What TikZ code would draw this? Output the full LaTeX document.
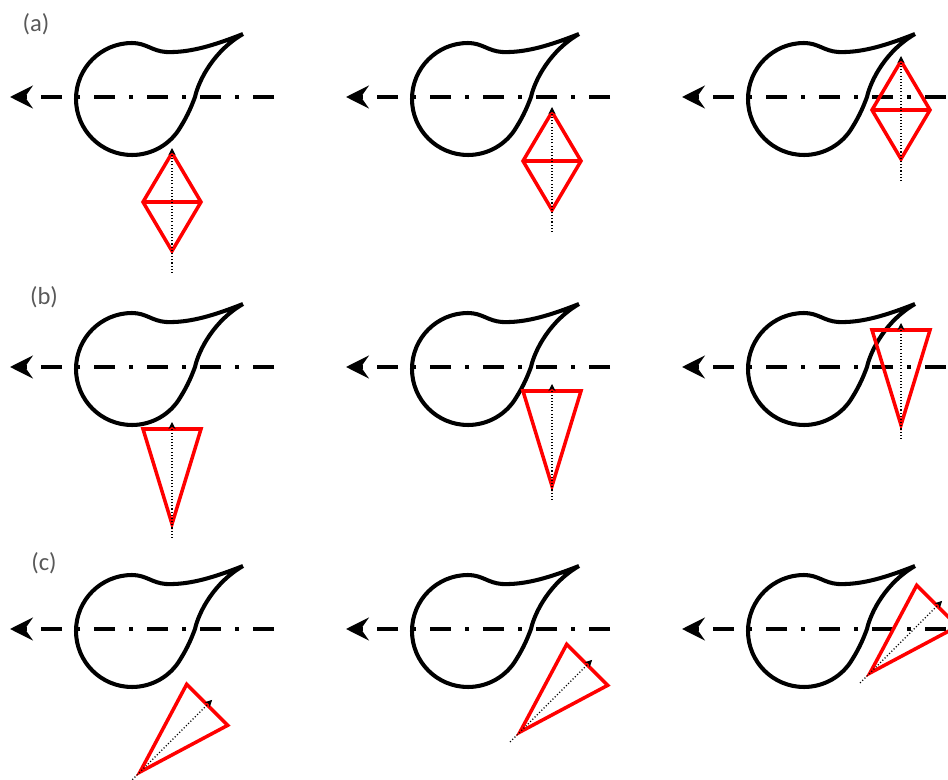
\documentclass[tikz,border=0pt]{standalone}
\usepackage{fontspec}
\setmainfont{Carlito}
\usetikzlibrary{arrows.meta}

\begin{document}
\begin{tikzpicture}[x=0.02cm,y=0.02cm,line join=round,
  dropline/.style={line width=2.3pt},
  axisline/.style={line width=2.3pt,
    dash pattern=on 0.42cm off 0.28cm on 0.08cm off 0.28cm,
    -{Stealth[length=13pt,width=13pt,inset=4.5pt]}},
  markline/.style={red,line width=2pt,line join=miter},
  dotline/.style={line width=0.8pt,dash pattern=on 0.6pt off 1.2pt,
    -{Stealth[length=4pt,width=4pt]}},
  tag/.style={font=\fontsize{14}{16}\selectfont,text=black!65}]

  \useasboundingbox (0,0) rectangle (948,-780);

  % row labels
  \node[tag] (lab-a) at (36,-24) {(a)};
  \node[tag] (lab-b) at (44,-297) {(b)};
  \node[tag] (lab-c) at (44,-563) {(c)};

  % drop shape with its dash-dot axis, three rows and three columns
  \foreach \row/\ay in {a/-97,b/-367,c/-629}{
    \foreach \col in {0,1,2}{
      \begin{scope}[shift={(336*\col,\ay)}]
        \coordinate (\row\col-ax) at (274,0);
        \coordinate (\row\col-tip) at (10,0);
        \draw[axisline] (\row\col-ax) -- (\row\col-tip);
        \draw[dropline] (243,63) .. controls (215,52) and (190,44) .. (166,45)
          .. controls (152,46) and (146,54) .. (132,54)
          arc[start angle=90,end angle=330,radius=56]
          .. controls (188,-18) and (192,-8) .. (195,0)
          .. controls (199,18) and (215,47) .. (243,63);
      \end{scope}
    }
  }

  % (a) diamonds
  \foreach \col/\cx/\cy in {0/172/-105,1/216/-64,2/229/-13}{
    \begin{scope}[shift={(336*\col,-97)}]
      \coordinate (a\col-lo) at (\cx,\cy-71);
      \coordinate (a\col-hi) at (\cx,\cy+54);
      \draw[markline] (\cx,\cy+49) -- (\cx+29,\cy) -- (\cx,\cy-49)
        -- (\cx-29,\cy) -- cycle (\cx-29,\cy) -- (\cx+29,\cy);
      \draw[dotline] (a\col-lo) -- (a\col-hi);
    \end{scope}
  }

  % (b) and (c) triangles, apex and heading
  \foreach \row/\ay/\col/\px/\py/\turn in
    {b/-367/0/172/-157/0,b/-367/1/216/-119/0,b/-367/2/229/-58/0,
     c/-629/0/140/-143/-45,c/-629/1/184/-103/-45,c/-629/2/198/-44/-45}{
    \begin{scope}[shift={(336*\col+\px,\ay+\py)},rotate=\turn]
      \coordinate (\row\col-lo) at (0,-14);
      \coordinate (\row\col-hi) at (0,102);
      \draw[markline] (0,0) -- (29,95) -- (-29,95) -- cycle;
      \draw[dotline] (\row\col-lo) -- (\row\col-hi);
    \end{scope}
  }
\end{tikzpicture}
\end{document}
